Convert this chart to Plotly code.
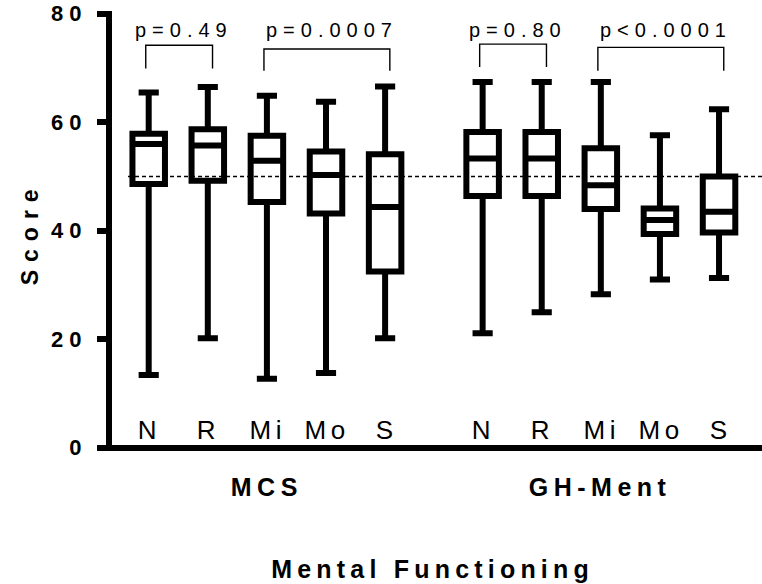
import json
import plotly.graph_objects as go

# ---------------- data ----------------
categories = ["N", "R", "Mi", "Mo", "S"]
groups = ["MCS", "GH-Ment"]

mcs_min = [13.4, 20.2, 12.7, 13.8, 20.2]
mcs_q1 = [48.6, 49.2, 45.3, 43.2, 32.5]
mcs_med = [56.0, 55.7, 52.9, 50.3, 44.4]
mcs_q3 = [57.9, 58.7, 57.5, 54.6, 54.1]
mcs_max = [65.5, 66.5, 64.9, 63.8, 66.6]

gh_min = [21.1, 25.0, 28.3, 31.0, 31.3]
gh_q1 = [46.4, 46.4, 44.0, 39.4, 39.7]
gh_med = [53.3, 53.3, 48.4, 42.0, 43.5]
gh_q3 = [58.2, 58.2, 55.2, 44.1, 50.0]
gh_max = [67.4, 67.4, 67.4, 57.6, 62.4]

reference_line = 50

# p-value comparisons: (group index, first category index, last category index)
p_labels = ["p=0.49", "p=0.0007", "p=0.80", "p<0.0001"]
p_pairs = [(0, 0, 1), (0, 2, 4), (1, 0, 1), (1, 2, 4)]
bracket_top = [74.2, 73.5, 74.4, 73.8]
bracket_bottom = [69.9, 69.5, 70.2, 69.5]
p_label_y = 77.0

y_ticks = [0, 20, 40, 60, 80]

# ---------------- layout helpers ----------------
FONT = "Liberation Sans, Arial, sans-serif"
group_start = [1.0, 6.65]  # x position of first box in each group


def positions(g):
    return [group_start[g] + i for i in range(len(categories))]


fig = go.Figure()

box_style = dict(
    fillcolor="white",
    line=dict(color="black", width=6),
    width=0.55,
    whiskerwidth=0.62,
    showlegend=False,
    hoverinfo="skip",
)

fig.add_trace(go.Box(x=positions(0), q1=mcs_q1, median=mcs_med, q3=mcs_q3,
                     lowerfence=mcs_min, upperfence=mcs_max, name=groups[0], **box_style))
fig.add_trace(go.Box(x=positions(1), q1=gh_q1, median=gh_med, q3=gh_q3,
                     lowerfence=gh_min, upperfence=gh_max, name=groups[1], **box_style))

shapes = []
# dotted reference line
shapes.append(dict(type="line", xref="x", yref="y", x0=0.65, x1=11.4,
                   y0=reference_line, y1=reference_line, layer="above",
                   line=dict(color="black", width=1.6, dash="4px,3px")))

annotations = []
dl, dr = -0.05, 0.08
for lab, (g, a, b), yt, yb in zip(p_labels, p_pairs, bracket_top, bracket_bottom):
    pos = positions(g)
    xa, xb = pos[a] + dl, pos[b] + dr
    shapes.append(dict(type="path", xref="x", yref="y",
                       path=f"M {xa},{yb} L {xa},{yt} L {xb},{yt} L {xb},{yb}",
                       line=dict(color="black", width=1.4)))
    annotations.append(dict(x=(xa + xb) / 2, y=p_label_y, xref="x", yref="y",
                            text=lab, showarrow=False, xshift=5,
                            yanchor="middle", xanchor="center",
                            font=dict(family=FONT, size=20, color="black")))

# category labels inside the plot
for g in range(len(groups)):
    for c, p in zip(categories, positions(g)):
        annotations.append(dict(x=p, y=3.3, xref="x", yref="y", text=c,
                                showarrow=False, xanchor="center", yanchor="middle",
                                xshift=1,
                                font=dict(family=FONT, size=26, color="black")))
    # group label under axis
    annotations.append(dict(x=positions(g)[2], y=-0.081, xref="x", yref="paper",
                            text=groups[g], showarrow=False, xanchor="center",
                            yanchor="middle", xshift=0,
                            font=dict(family=FONT, size=25, color="black", weight="bold")))

annotations.append(dict(x=0.493, y=-0.2675, xref="paper", yref="paper",
                        text="Mental Functioning", showarrow=False,
                        xanchor="center", yanchor="middle",
                        font=dict(family=FONT, size=25, color="black", weight="bold")))
annotations.append(dict(x=-0.126, y=0.495, xref="paper", yref="paper",
                        text="Score", showarrow=False, textangle=-90,
                        xanchor="center", yanchor="middle",
                        font=dict(family=FONT, size=23, color="black", weight="bold")))

fig.update_layout(
    width=762, height=584, autosize=False,
    margin=dict(l=112, r=0, t=11, b=133, pad=0),
    paper_bgcolor="white", plot_bgcolor="white",
    boxmode="overlay",
    shapes=shapes, annotations=annotations,
    xaxis=dict(range=[0.379, 11.377], showticklabels=False, ticks="",
               showgrid=False, zeroline=False, showline=False, fixedrange=True),
    yaxis=dict(range=[-0.6, 80.51], tickvals=y_ticks, ticks="outside",
               ticklen=9, tickwidth=6, tickcolor="black",
               showline=True, linewidth=6, linecolor="black",
               zeroline=True, zerolinewidth=6, zerolinecolor="black",
               showgrid=False, fixedrange=True, ticklabelstandoff=5,
               tickfont=dict(family=FONT, size=22, color="black", weight="bold")),
)

spacing = {"Score": "8px", "MCS": "5.5px", "GH-Ment": "5.5px", "Mental Functioning": "5.2px"}
for c in categories:
    spacing[c] = "4.5px"

post_script = """
var gd = document.getElementById('{plot_id}');
var SP = %s;
function spaceLetters(){
  gd.querySelectorAll('text').forEach(function(t){
    var k = t.textContent;
    t.style.letterSpacing = (k in SP) ? SP[k] : '6px';
  });
}
spaceLetters();
gd.on('plotly_afterplot', spaceLetters);
""" % json.dumps(spacing)

fig.write_html("out.html", post_script=post_script,
               config={"displayModeBar": False, "responsive": False})
